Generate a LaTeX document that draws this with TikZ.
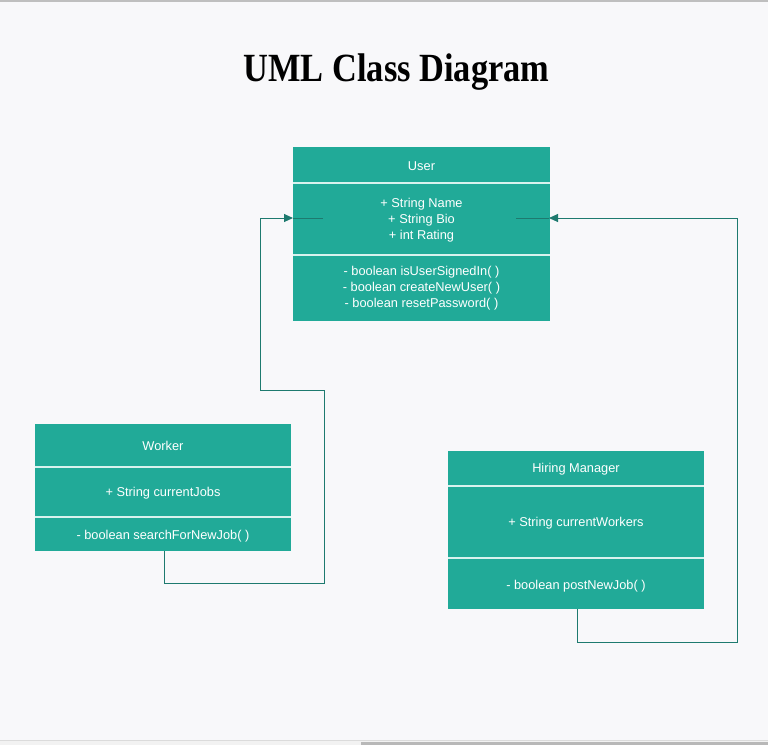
\documentclass[tikz,border=0pt]{standalone}
\usepackage{fontspec}
\setmainfont{Liberation Sans}
\newfontfamily\titlefont{Liberation Serif}
\usetikzlibrary{arrows.meta}
\definecolor{bg}{HTML}{F8F8FA}
\definecolor{teal1}{HTML}{21AA98}
\definecolor{linec}{HTML}{1E7A6F}
\definecolor{divc}{HTML}{D8F2EE}
\tikzset{
  classbox/.style={draw=none, fill=teal1, minimum width=257pt, anchor=north west, inner sep=0pt},
  divider/.style={draw=divc, line width=1.5pt},
  ctext/.style={text=white, font=\fontsize{12.8}{16}\selectfont, align=center, inner sep=0pt, yshift=-1pt},
  conn/.style={draw=linec, line width=1pt},
  tip/.style={-{Triangle[length=9pt,width=8pt,fill=linec]}, draw=linec, line width=1pt},
}
\begin{document}
\begin{tikzpicture}[x=1pt,y=-1pt]
\useasboundingbox (0,0) rectangle (768,745);
\fill[bg] (0,0) rectangle (768,745);
\fill[black!25] (0,0) rectangle (768,2);
\fill[black!5] (0,740) rectangle (768,745);
\fill[black!14] (0,739.5) rectangle (768,740.5);
\fill[black!28] (361,742) rectangle (768,745);

\node[font=\titlefont\bfseries\fontsize{40}{40}\selectfont, anchor=base, inner sep=0pt] (title) at (396.5,81) {\scalebox{0.86}[1]{UML Class Diagram}};

% User
\node[classbox, minimum height=174pt] (user) at (293,147) {};
\draw[divider] (293,183) -- (550,183);
\draw[divider] (293,255) -- (550,255);
\node[ctext] (userh) at (421.5,165) {User};
\node[ctext] (usera) at (421.5,219) {+ String Name\\+ String Bio\\+ int Rating};
\node[ctext] (userm) at (421.5,287.5) {- boolean isUserSignedIn( )\\- boolean createNewUser( )\\- boolean resetPassword( )};

% Worker
\node[classbox, minimum width=256pt, minimum height=127pt] (worker) at (35,424) {};
\draw[divider] (35,467) -- (291,467);
\draw[divider] (35,517) -- (291,517);
\node[ctext] (workerh) at (163,445) {Worker};
\node[ctext] (workera) at (163,492) {+ String currentJobs};
\node[ctext] (workerm) at (163,535) {- boolean searchForNewJob( )};

% Hiring Manager
\node[classbox, minimum width=256pt, minimum height=158pt] (hm) at (448,451) {};
\draw[divider] (448,486) -- (704,486);
\draw[divider] (448,558) -- (704,558);
\node[ctext] (hmh) at (576,468) {Hiring Manager};
\node[ctext] (hma) at (576,522) {+ String currentWorkers};
\node[ctext] (hmm) at (576,585) {- boolean postNewJob( )};

% connector coordinates
\coordinate (wstart) at (164,551);
\coordinate (lin) at (293,218);
\coordinate (lend) at (323,218);
\coordinate (hstart) at (577,609);
\coordinate (rin) at (549,218);
\coordinate (rend) at (516,218);

\draw[tip] (wstart) -- (164,583) -- (324,583) -- (324,390) -- (260,390) -- (260,218) -- (lin);
\draw[conn] (lin) -- (lend);
\draw[tip] (hstart) -- (577,642) -- (737,642) -- (737,218) -- (rin);
\draw[conn] (rin) -- (rend);
\end{tikzpicture}
\end{document}
